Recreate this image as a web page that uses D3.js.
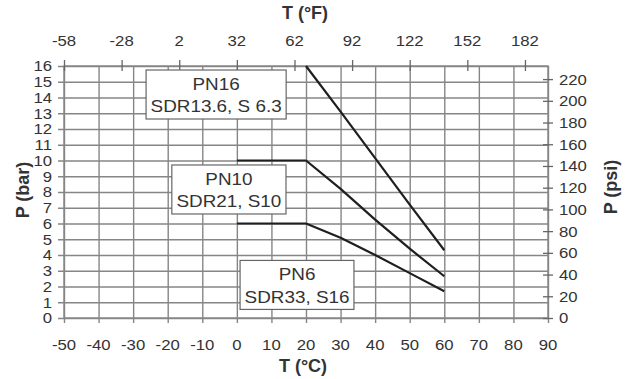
<!DOCTYPE html>
<html>
<head>
<meta charset="utf-8">
<script src="https://cdn.jsdelivr.net/npm/d3@7"></script>
<style>
  html, body { margin: 0; padding: 0; background: #fff; }
  svg { display: block; }
  text { font-family: "Liberation Sans", Arial, sans-serif; fill: #333; }
</style>
</head>
<body>
<svg id="chart" width="633" height="379"></svg>
<script>
// ---- data ----
const tempC = [0, 20, 30, 40, 50, 60];
const pn16 = [null, 16, 13.1, 10.15, 7.2, 4.3];
const pn10 = [10, 10, 8.2, 6.25, 4.4, 2.65];
const pn6  = [6, 6, 5.1, 4.0, 2.85, 1.7];
const seriesNames = ["PN16", "PN10", "PN6"];
const seriesSub = ["SDR13.6, S 6.3", "SDR21, S10", "SDR33, S16"];
const celsiusTicks = [-50, -40, -30, -20, -10, 0, 10, 20, 30, 40, 50, 60, 70, 80, 90];
const fahrenheitTicks = [-58, -28, 2, 32, 62, 92, 122, 152, 182];
const barTicks = [0, 1, 2, 3, 4, 5, 6, 7, 8, 9, 10, 11, 12, 13, 14, 15, 16];
const psiTicks = [0, 20, 40, 60, 80, 100, 120, 140, 160, 180, 200, 220];
// label anchor points (°C, bar) for the annotation boxes
const labelC = [-6, -2.3, 17.4];
const labelBar = [14.19, 8.16, 2.1];

// ---- layout ----
const L = 64, R = 548, T = 66, B = 318;
const svg = d3.select("#chart");

const x = d3.scaleLinear().domain([-50, 90]).range([L, R]);
const xF = d3.scaleLinear().domain([-50 * 1.8 + 32, 90 * 1.8 + 32]).range([L, R]);
const y = d3.scaleLinear().domain([0, 16]).range([B, T]);
const yPsi = d3.scaleLinear().domain([0, 16 * 14.5038]).range([B, T]);

const gridColor = "#868686";

// grid: vertical lines (extend below as ticks)
const gv = svg.append("g").attr("transform", `translate(0,${B})`)
  .call(d3.axisBottom(x).tickValues(celsiusTicks).tickSizeInner(-(B - T)).tickSizeOuter(0).tickFormat(""));
gv.select(".domain").remove();
gv.selectAll(".tick line").attr("stroke", gridColor).attr("stroke-width", 1.4)
  .attr("y1", 5);

// grid: horizontal lines (extend left as ticks)
const gh = svg.append("g").attr("transform", `translate(${L},0)`)
  .call(d3.axisLeft(y).tickValues(barTicks).tickSizeInner(-(R - L)).tickSizeOuter(0).tickFormat(""));
gh.select(".domain").remove();
gh.selectAll(".tick line").attr("stroke", gridColor).attr("stroke-width", 1.4)
  .attr("x1", -6);

// border
svg.append("rect").attr("x", L).attr("y", T).attr("width", R - L).attr("height", B - T)
  .attr("fill", "none").attr("stroke", gridColor).attr("stroke-width", 1.4);

// top °F ticks
const gt = svg.append("g").attr("transform", `translate(0,${T})`)
  .call(d3.axisTop(xF).tickValues(fahrenheitTicks).tickSizeInner(6).tickSizeOuter(0).tickFormat(""));
gt.select(".domain").remove();
gt.selectAll(".tick line").attr("stroke", "#666").attr("stroke-width", 1.3).attr("y2", 5).attr("y1", -6);

// right psi ticks
const gr = svg.append("g").attr("transform", `translate(${R},0)`)
  .call(d3.axisRight(yPsi).tickValues(psiTicks).tickSizeInner(5).tickSizeOuter(0).tickFormat(""));
gr.select(".domain").remove();
gr.selectAll(".tick line").attr("stroke", "#666").attr("stroke-width", 1.3).attr("x1", -5).attr("x2", 5);

// helper for (slightly stretched) text
function stext(g, tx, ty, str, opts) {
  const sx = opts.sx || 1;
  const t = g.append("text")
    .attr("transform", `translate(${tx},${ty}) scale(${sx},1)` + (opts.rotate ? ` rotate(${opts.rotate})` : ""))
    .attr("text-anchor", opts.anchor || "middle")
    .attr("dy", "0.35em")
    .style("font-size", (opts.size || 14) + "px")
    .style("font-weight", opts.bold ? "bold" : "normal")
    .text(str);
  return t;
}

const labels = svg.append("g");
const tickOpts = { size: 15.5, sx: 1.08 };
barTicks.forEach(v => stext(labels, 52, y(v), String(v), { ...tickOpts, anchor: "end" }));
psiTicks.forEach(v => stext(labels, 559, yPsi(v), String(v), { ...tickOpts, anchor: "start" }));
celsiusTicks.forEach(v => stext(labels, x(v), 345, String(v), tickOpts));
fahrenheitTicks.forEach(v => stext(labels, xF(v), 41, String(v), tickOpts));

stext(labels, 303, 366, "T (°C)", { size: 18, bold: true });
stext(labels, 305, 13, "T (°F)", { size: 18, bold: true });
stext(labels, 23, 190, "P (bar)", { size: 18, bold: true, rotate: -90 });
stext(labels, 611, 187, "P (psi)", { size: 18, bold: true, rotate: -90 });

// curves
const line = d3.line().defined(d => d[1] != null).x(d => x(d[0])).y(d => y(d[1]));
[pn16, pn10, pn6].forEach(vals => {
  svg.append("path")
    .datum(tempC.map((c, i) => [c, vals[i]]))
    .attr("d", line)
    .attr("fill", "none")
    .attr("stroke", "#1f1f1f")
    .attr("stroke-width", 2.2)
    .attr("stroke-linejoin", "round");
});

// annotation boxes
const BOX_SX = 1.18;
seriesNames.forEach((name, i) => {
  const cx = x(labelC[i]), cy = y(labelBar[i]);
  const g = svg.append("g");
  const rect = g.append("rect").attr("fill", "#fff").attr("stroke", "#666").attr("stroke-width", 1.2);
  stext(g, cx, cy - 10.5, name, { size: 16, sx: BOX_SX });
  const t2 = stext(g, cx, cy + 12, seriesSub[i], { size: 16, sx: BOX_SX });
  const w = t2.node().getBBox().width * BOX_SX + 9;
  const h = 49;
  rect.attr("x", cx - w / 2).attr("y", cy - h / 2).attr("width", w).attr("height", h);
});
</script>
</body>
</html>
